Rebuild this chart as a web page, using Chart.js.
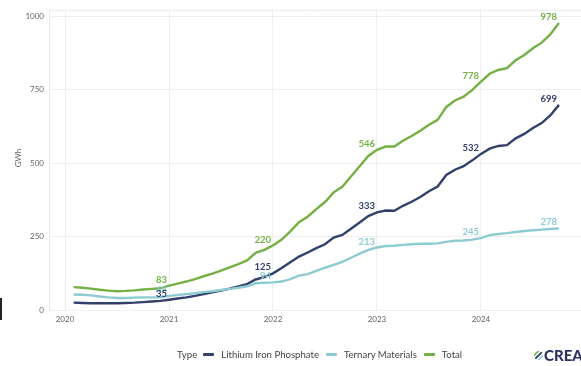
<!DOCTYPE html>
<html>
<head>
<meta charset="utf-8">
<script src="https://cdn.jsdelivr.net/npm/chart.js@4.4.1/dist/chart.umd.min.js"></script>
<style>
  html, body { margin: 0; padding: 0; background: #fff; overflow: hidden; }
  #wrap { position: relative; width: 581px; height: 366px; font-family: Lato, "Open Sans", sans-serif; overflow: hidden; }
  #chart { position: absolute; left: 0; top: 0; }
  #legend { position: absolute; left: 177px; top: 347px; height: 14px; display: flex; align-items: center; font-size: 9.6px; color: #444; white-space: nowrap; }
  #legend .ttl { margin-right: 6px; }
  #legend .item { display: flex; align-items: center; margin-right: 7px; }
  #legend .sw { display: inline-block; width: 11px; height: 3px; border-radius: 1px; margin-right: 7px; }
  #brand { position: absolute; left: 534px; top: 346px; display: flex; align-items: center; font-weight: 900; font-size: 15px; color: #2c3561; white-space: nowrap; }
  #brand svg { margin-right: 1px; }
  #edge { position: absolute; left: 0; top: 298px; width: 2px; height: 22px; background: #222; }
</style>
</head>
<body>
<div id="wrap">
  <canvas id="chart" width="581" height="366"></canvas>
  <div id="legend"></div>
  <div id="brand">
    <svg width="9" height="9" viewBox="0 0 8 8">
      <defs><clipPath id="c"><circle cx="4" cy="4" r="4"/></clipPath></defs>
      <g clip-path="url(#c)" stroke-width="1.6">
        <line x1="-1" y1="5" x2="5" y2="-1" stroke="#76b043"/>
        <line x1="0" y1="8" x2="8" y2="0" stroke="#2c3561"/>
        <line x1="3" y1="9" x2="9" y2="3" stroke="#8cc9d0"/>
      </g>
    </svg>
    <span>CREA</span>
  </div>
  <div id="edge"></div>
</div>
<script>
// Monthly rolling 12-month battery output, GWh (Jan 2020 – Sep 2024)
const firstYear = 2020;
const lithiumIronPhosphate = [
  25, 24, 23, 23, 23, 23, 24, 25, 27, 29, 31, 35,
  39, 43, 48, 54, 60, 66, 73, 80, 88, 104, 112, 125,
  143, 163, 182, 196, 211, 224, 247, 256, 277, 298, 320, 333,
  339, 338, 355, 369, 385, 405, 421, 460, 478, 490, 510, 532,
  550, 559, 562, 585, 600, 620, 637, 663, 699
];
const ternaryMaterials = [
  53, 52, 50, 46, 43, 41, 41, 42, 43, 43, 43, 48,
  51, 54, 57, 61, 64, 68, 72, 76, 81, 91, 93, 94,
  97, 105, 117, 122, 133, 144, 154, 164, 178, 192, 205, 213,
  218, 219, 222, 224, 226, 226, 227, 232, 236, 237, 240, 245,
  255, 259, 262, 266, 269, 272, 274, 276, 278
];
const total = [
  78, 76, 73, 69, 66, 64, 65, 67, 70, 72, 74, 83,
  90, 97, 105, 115, 124, 134, 145, 156, 169, 195, 205, 220,
  240, 268, 299, 318, 344, 368, 401, 420, 455, 490, 525, 546,
  557, 557, 577, 593, 611, 631, 648, 692, 714, 727, 750, 778,
  805, 818, 824, 851, 869, 892, 911, 939, 978
];
const seriesNames = ['Lithium Iron Phosphate', 'Ternary Materials', 'Total'];
const seriesColors = ['#33406b', '#8ccbd2', '#74b044'];
const labelledMonths = ['2020-12', '2021-12', '2022-12', '2023-12', '2024-09'];
const yearTicks = [2020, 2021, 2022, 2023, 2024];
const valueTicks = [0, 250, 500, 750, 1000];

// month labels "YYYY-MM"
const months = lithiumIronPhosphate.map((_, i) => {
  const y = firstYear + Math.floor(i / 12);
  const m = (i % 12) + 1;
  return y + '-' + String(m).padStart(2, '0');
});
// each month is placed at its month end on a continuous year axis
const monthToX = s => { const [y, m] = s.split('-').map(Number); return y + m / 12; };
const toPoints = arr => arr.map((v, i) => ({ x: monthToX(months[i]), y: v }));

const seriesValues = [lithiumIronPhosphate, ternaryMaterials, total];
const datasets = seriesValues.map((vals, k) => ({
  label: seriesNames[k],
  data: toPoints(vals),
  borderColor: seriesColors[k],
  backgroundColor: seriesColors[k],
  borderWidth: 2.4,
  pointRadius: 0,
  tension: 0,
  order: 3 - k
}));

const FONT = 'Lato, "Open Sans", sans-serif';

const frame = {
  id: 'frame',
  beforeDraw(chart) {
    const { ctx, chartArea: a } = chart;
    ctx.save();
    ctx.strokeStyle = '#e9e9e9';
    ctx.lineWidth = 1;
    ctx.beginPath();
    ctx.moveTo(a.left + 0.5, a.bottom);
    ctx.lineTo(a.left + 0.5, a.top + 0.5);
    ctx.lineTo(a.right, a.top + 0.5);
    ctx.stroke();
    // axis title
    ctx.translate(18, 158);
    ctx.rotate(-Math.PI / 2);
    ctx.fillStyle = '#666';
    ctx.font = '8px ' + FONT;
    ctx.textAlign = 'center';
    ctx.textBaseline = 'middle';
    ctx.fillText('GWh', 0, 0);
    ctx.restore();
  }
};

const valueLabels = {
  id: 'valueLabels',
  afterDatasetsDraw(chart) {
    const { ctx } = chart;
    ctx.save();
    ctx.font = 'bold 9.5px ' + FONT;
    ctx.textAlign = 'right';
    ctx.textBaseline = 'middle';
    [1, 0, 2].forEach(k => {
      const meta = chart.getDatasetMeta(k);
      ctx.fillStyle = seriesColors[k];
      labelledMonths.forEach(mo => {
        const i = months.indexOf(mo);
        const pt = meta.data[i];
        ctx.fillText(String(seriesValues[k][i]), pt.x - 2, pt.y - 6);
      });
    });
    ctx.restore();
  }
};

new Chart(document.getElementById('chart'), {
  type: 'line',
  data: { datasets },
  options: {
    responsive: false,
    animation: false,
    layout: { padding: { top: 3, right: 0, left: 0, bottom: 0 } },
    plugins: { legend: { display: false }, tooltip: { enabled: false } },
    scales: {
      x: {
        type: 'linear',
        min: 2019.846,
        max: 2024.962,
        afterFit: s => { s.height = 56; },
        afterBuildTicks: s => { s.ticks = yearTicks.map(v => ({ value: v })); },
        grid: { color: '#efefef', drawTicks: false },
        border: { display: false },
        ticks: { padding: 5, color: '#666', font: { size: 8, family: FONT }, callback: v => String(v), maxRotation: 0 }
      },
      y: {
        min: 0,
        max: 1023,
        afterFit: s => { s.width = 49; },
        afterBuildTicks: s => { s.ticks = valueTicks.map(v => ({ value: v })); },
        grid: { color: '#efefef', drawTicks: false },
        border: { display: false },
        ticks: { padding: 5, color: '#666', font: { size: 8, family: FONT }, callback: v => String(v) }
      }
    }
  },
  plugins: [frame, valueLabels]
});

// legend row
const legend = document.getElementById('legend');
legend.innerHTML = '<span class="ttl">Type</span>' + seriesNames.map((n, k) =>
  '<span class="item"><span class="sw" style="background:' + seriesColors[k] + '"></span>' + n + '</span>'
).join('');
</script>
</body>
</html>
